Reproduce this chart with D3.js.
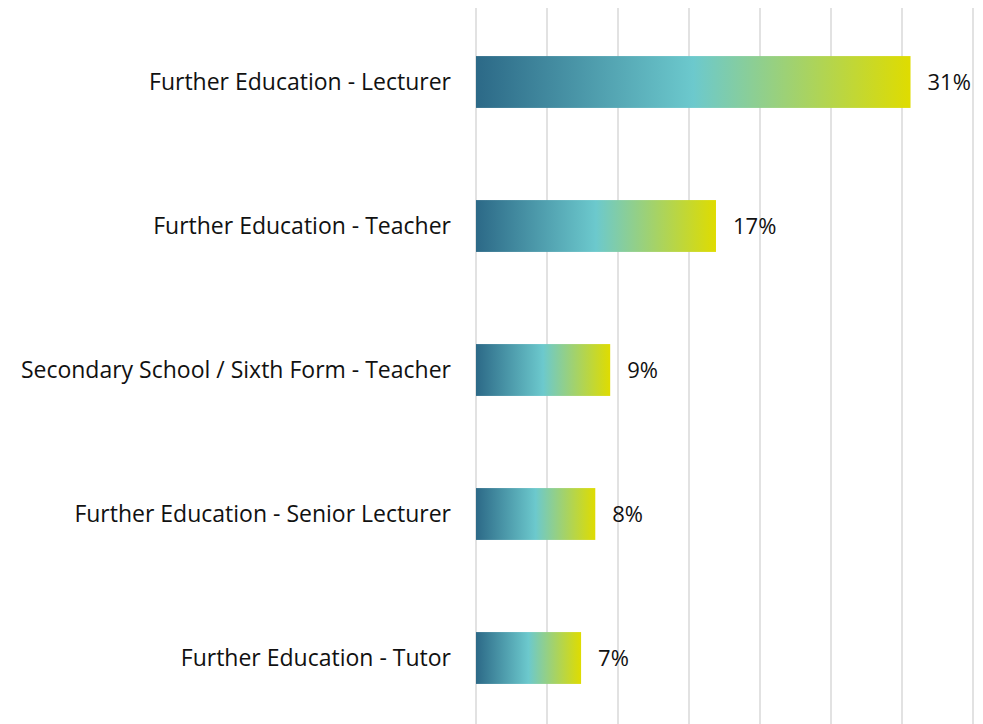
<!DOCTYPE html>
<html>
<head>
<meta charset="utf-8">
<script src="https://cdn.jsdelivr.net/npm/d3@7"></script>
<style>
  body { margin: 0; background: #fff; }
  svg { display: block; }
  text { font-family: "Open Sans", sans-serif; fill: #111; }
</style>
</head>
<body>
<div id="chart"></div>
<script>
// categories, top to bottom
const categories = [
    "Further Education - Lecturer",
    "Further Education - Teacher",
    "Secondary School / Sixth Form - Teacher",
    "Further Education - Senior Lecturer",
    "Further Education - Tutor"
];
// share of respondents
const values = [0.306, 0.169, 0.0945, 0.084, 0.074];
// vertical gridlines
const gridTicks = [0, 0.05, 0.1, 0.15, 0.2, 0.25, 0.3, 0.35];

const width = 983, height = 724;

const svg = d3.select("#chart").append("svg")
    .attr("width", width)
    .attr("height", height);

let x = d3.scaleLinear()
    .domain([0, 0.35])
    .range([476, 973]);

let y = d3.scaleBand()
    .domain(categories)
    .range([10, 730])
    .paddingInner(0.64)
    .paddingOuter(0.32);

// gradient across each bar
let grad = svg.append("defs").append("linearGradient")
    .attr("id", "barGrad")
    .attr("x1", "0%").attr("x2", "100%")
    .attr("y1", "0%").attr("y2", "0%");
grad.append("stop").attr("offset", "0%").attr("stop-color", "#2c6987");
grad.append("stop").attr("offset", "50%").attr("stop-color", "#6cc9cd");
grad.append("stop").attr("offset", "100%").attr("stop-color", "#dfdc00");

// gridlines
svg.append("g")
    .selectAll("line")
    .data(gridTicks)
    .enter()
    .append("line")
    .attr("x1", d => x(d)).attr("x2", d => x(d))
    .attr("y1", 8).attr("y2", height)
    .style("stroke", "#d9d9d9")
    .style("stroke-width", 1.5);

// bars
svg.append("g")
    .selectAll("rect")
    .data(values)
    .enter()
    .append("rect")
    .attr("x", x(0))
    .attr("y", (d, i) => y(categories[i]))
    .attr("width", d => x(d) - x(0))
    .attr("height", y.bandwidth())
    .style("fill", "url(#barGrad)");

// category labels
svg.append("g")
    .selectAll("text")
    .data(categories)
    .enter()
    .append("text")
    .attr("x", 451)
    .attr("y", d => y(d) + y.bandwidth() / 2)
    .attr("dy", "0.35em")
    .attr("text-anchor", "end")
    .style("font-size", "23px")
    .text(d => d);

// value labels
let fmt = d3.format(".0%");
svg.append("g")
    .selectAll("text")
    .data(values)
    .enter()
    .append("text")
    .attr("x", d => x(d) + 17)
    .attr("y", (d, i) => y(categories[i]) + y.bandwidth() / 2)
    .attr("dy", "0.35em")
    .style("font-size", "22px")
    .text(d => fmt(d));
</script>
</body>
</html>
